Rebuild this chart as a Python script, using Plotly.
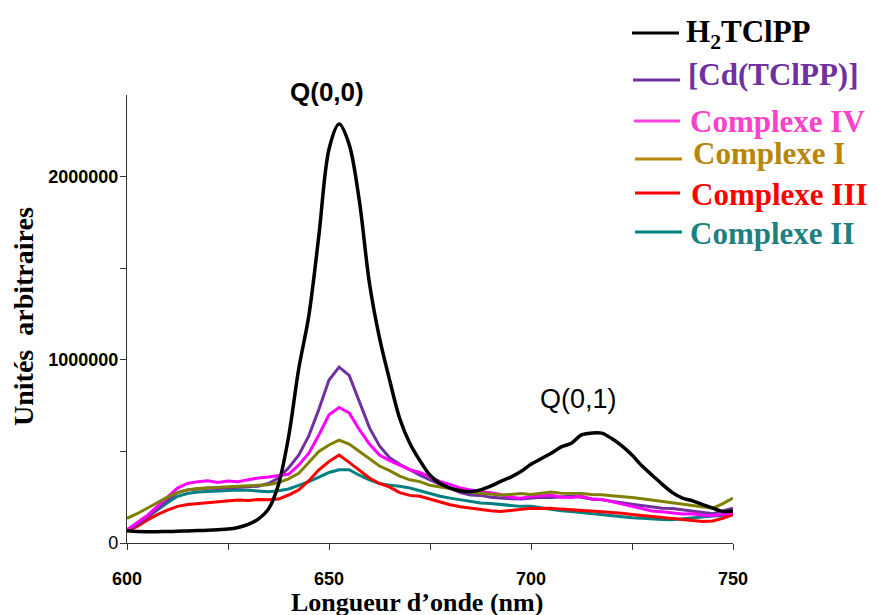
import plotly.graph_objects as go

# Wavelength grid (nm)
wavelength = [600 + 2.5 * i for i in range(61)]

# Series values (arbitrary units)
h2tclpp = [67000, 63000, 62000, 62000, 63000, 64000, 66000, 68000, 70000, 73000,
           76000, 85000, 102000, 130000, 185000, 320000, 580000, 950000, 1240000, 1680000,
           2150000, 2287000, 2175000, 1870000, 1420000, 1120000, 890000, 680000, 545000, 450000,
           370000, 325000, 300000, 285000, 280000, 290000, 310000, 336000, 360000, 390000,
           430000, 460000, 490000, 525000, 545000, 590000, 600000, 600000, 570000, 530000,
           480000, 420000, 370000, 320000, 275000, 245000, 230000, 210000, 190000, 172000,
           175000]

cd_tclpp = [70000, 100000, 140000, 190000, 235000, 275000, 290000, 295000, 300000, 298000,
            300000, 302000, 305000, 310000, 325000, 355000, 410000, 480000, 585000, 730000,
            890000, 960000, 915000, 770000, 630000, 530000, 465000, 430000, 400000, 370000,
            345000, 320000, 300000, 275000, 262000, 260000, 250000, 245000, 242000, 240000,
            245000, 250000, 248000, 252000, 255000, 250000, 240000, 236000, 230000, 220000,
            212000, 205000, 198000, 190000, 188000, 180000, 172000, 165000, 160000, 175000,
            190000]

complexe_iv = [72000, 110000, 150000, 200000, 250000, 300000, 325000, 335000, 340000, 330000,
               338000, 335000, 345000, 355000, 360000, 368000, 375000, 425000, 490000, 590000,
               700000, 740000, 710000, 620000, 540000, 480000, 450000, 425000, 400000, 385000,
               360000, 335000, 320000, 300000, 290000, 280000, 275000, 265000, 250000, 245000,
               255000, 260000, 262000, 250000, 248000, 255000, 240000, 238000, 225000, 215000,
               198000, 185000, 175000, 170000, 162000, 158000, 160000, 152000, 150000, 155000,
               165000]

complexe_i = [135000, 160000, 190000, 220000, 250000, 275000, 290000, 298000, 302000, 305000,
              308000, 310000, 312000, 315000, 318000, 330000, 350000, 380000, 440000, 500000,
              535000, 562000, 540000, 500000, 465000, 420000, 395000, 365000, 345000, 335000,
              315000, 305000, 295000, 285000, 278000, 272000, 268000, 262000, 265000, 270000,
              265000, 272000, 278000, 272000, 273000, 270000, 265000, 264000, 258000, 255000,
              248000, 242000, 235000, 225000, 218000, 210000, 205000, 200000, 190000, 215000,
              245000]

complexe_iii = [63000, 90000, 125000, 155000, 180000, 200000, 210000, 215000, 218000, 225000,
                228000, 235000, 232000, 238000, 236000, 240000, 262000, 290000, 340000, 400000,
                445000, 480000, 440000, 395000, 355000, 325000, 305000, 275000, 260000, 255000,
                240000, 222000, 209000, 198000, 190000, 182000, 176000, 172000, 178000, 184000,
                190000, 188000, 190000, 185000, 180000, 178000, 175000, 172000, 168000, 162000,
                156000, 150000, 145000, 140000, 135000, 128000, 122000, 118000, 120000, 135000,
                155000]

complexe_ii = [73000, 100000, 140000, 180000, 220000, 255000, 270000, 278000, 282000, 285000,
               288000, 290000, 288000, 285000, 280000, 285000, 295000, 315000, 335000, 360000,
               385000, 400000, 400000, 370000, 345000, 325000, 315000, 310000, 300000, 285000,
               270000, 255000, 245000, 235000, 225000, 218000, 215000, 209000, 203000, 200000,
               200000, 192000, 180000, 176000, 172000, 166000, 160000, 155000, 150000, 145000,
               138000, 135000, 130000, 128000, 127000, 132000, 138000, 145000, 148000, 150000,
               155000]

series_names = ["H<sub>2</sub>TClPP", "[Cd(TClPP)]", "Complexe IV", "Complexe I",
                "Complexe III", "Complexe II"]

x_tickvals = [600, 650, 700, 750]
x_ticktext = ["<b>600</b>", "<b>650</b>", "<b>700</b>", "<b>750</b>"]
y_tickvals = [0, 1000000, 2000000]
y_ticktext = ["0", "<b>1000000</b>", "<b>2000000</b>"]

fig = go.Figure()

traces = [
    (complexe_ii, "Complexe II", "#008080", 3),
    (complexe_iii, "Complexe III", "#FF0000", 3),
    (cd_tclpp, "[Cd(TClPP)]", "#7030A0", 3),
    (complexe_iv, "Complexe IV", "#FF00FF", 3),
    (complexe_i, "Complexe I", "#808000", 3),
]
for ys, name, color, w in traces:
    fig.add_trace(go.Scatter(x=wavelength, y=ys, mode="lines", name=name,
                             line=dict(color=color, width=w), showlegend=False))
fig.add_trace(go.Scatter(x=wavelength, y=h2tclpp, mode="lines", name="H2TClPP",
                         line=dict(color="#000000", width=3.5, shape="spline", smoothing=0.9),
                         showlegend=False))

serif = "Liberation Serif, Times New Roman, serif"
sans = "Liberation Sans, Arial, sans-serif"

# The page body has an 8px margin, so the figure is 8px smaller on each side
W, H = 870, 607
L, R, T, B = 119, 145, 87, 72
pw, ph = W - L - R, H - T - B


def px(xpage):
    return (xpage - 8 - L) / pw


def py(ypage):
    return (H - B - (ypage - 8)) / ph


annotations = [
    dict(x=px(327), y=py(92), xref="paper", yref="paper", text="<b>Q(0,0)</b>",
         showarrow=False, xanchor="center", yanchor="middle",
         font=dict(family=sans, size=26, color="#000000")),
    dict(x=711.7, y=787000, xref="x", yref="y", text="Q(0,1)", showarrow=False,
         xanchor="center", yanchor="middle",
         font=dict(family=sans, size=27, color="#000000")),
    dict(x=px(23), y=py(317), xref="paper", yref="paper", text="<b>Unités  arbitraires</b>",
         textangle=-90, showarrow=False, xanchor="center", yanchor="middle",
         font=dict(family=serif, size=28, color="#000000")),
    dict(x=px(417), y=py(602), xref="paper", yref="paper", text="<b>Longueur d\u2019onde (nm)</b>",
         showarrow=False, xanchor="center", yanchor="middle", borderpad=0,
         font=dict(family=serif, size=26, color="#000000")),
]

legend_items = [
    (series_names[0], "#000000", "#000000", 632, 679, 33, 684, 34),
    (series_names[1], "#7030A0", "#7030A0", 633, 680, 80, 686, 75),
    (series_names[2], "#FF40E0", "#FF40C8", 634, 680, 121, 688, 122),
    (series_names[3], "#B8860B", "#B8860B", 635, 682, 159, 691, 153),
    (series_names[4], "#FF0000", "#FF0000", 635, 680, 193, 689, 194),
    (series_names[5], "#008080", "#1F8080", 635, 682, 232, 688, 233),
]
shapes = []
for name, lcol, tcol, x0, x1, ly, tx, ty in legend_items:
    shapes.append(dict(type="line", xref="paper", yref="paper", x0=px(x0), x1=px(x1),
                       y0=py(ly), y1=py(ly), line=dict(color=lcol, width=3)))
    annotations.append(dict(x=px(tx), y=py(ty), xref="paper", yref="paper",
                            text="<b>" + name + "</b>", showarrow=False,
                            xanchor="left", yanchor="middle",
                            font=dict(family=serif, size=31, color=tcol)))

fig.update_layout(
    width=W, height=H,
    margin=dict(l=L, r=R, t=T, b=B),
    paper_bgcolor="white", plot_bgcolor="white",
    showlegend=False,
    annotations=annotations,
    shapes=shapes,
    xaxis=dict(range=[600, 750], tickvals=x_tickvals, ticktext=x_ticktext,
               ticks="outside", ticklen=6, tickcolor="#333", tickwidth=1,
               minor=dict(ticks="outside", ticklen=6, tickcolor="#333", tickwidth=1,
                          tick0=600, dtick=25, showgrid=False),
               showline=True, linecolor="#333", linewidth=1.2, showgrid=False,
               zeroline=False, ticklabelstandoff=13,
               tickfont=dict(family=sans, size=18, color="#000")),
    yaxis=dict(range=[0, 2446000], tickvals=y_tickvals, ticktext=y_ticktext,
               ticks="outside", ticklen=6, tickcolor="#333", tickwidth=1,
               minor=dict(ticks="outside", ticklen=6, tickcolor="#333", tickwidth=1,
                          tick0=0, dtick=500000, showgrid=False),
               showline=True, linecolor="#333", linewidth=1.2, showgrid=False,
               zeroline=False, ticklabelstandoff=-2,
               tickfont=dict(family=sans, size=18, color="#000")),
)

fig.write_html("out.html")
